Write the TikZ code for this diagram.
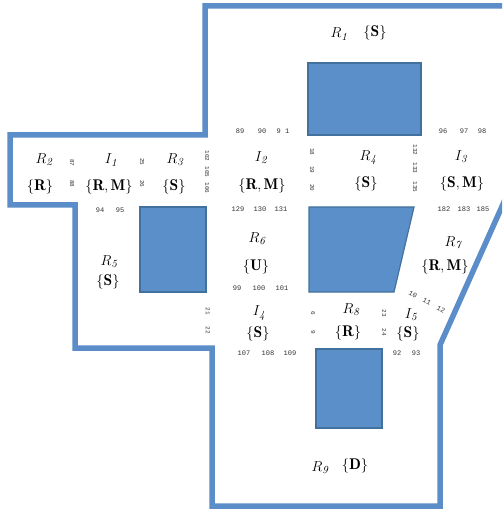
\documentclass[tikz,border=0pt]{standalone}
\usepackage{fontspec}
\setmonofont{Liberation Mono}
\definecolor{wallblue}{HTML}{5B8DC8}
\definecolor{obsfill}{HTML}{5B8FC9}
\definecolor{obsline}{HTML}{41719C}
\begin{document}
\begin{tikzpicture}[x=1pt, y=-1pt,
  wall/.style={wallblue, line width=5.5pt, line join=miter},
  obstacle/.style={fill=obsfill, draw=obsline, line width=1.2pt},
  region/.style={font=\fontsize{15.5}{17}\selectfont, inner sep=0pt},
  cell/.style={font=\fontsize{7}{8}\selectfont\ttfamily, inner sep=0pt, text=black!80},
  vcell/.style={cell, font=\fontsize{6}{7}\selectfont\ttfamily, rotate=-90}]
  \useasboundingbox (0,0) rectangle (502,510);
  \clip (0,0) rectangle (502,510);

  % Outline
  \draw[wall] (205,6) -- (508,6) -- (508,193) -- (440,345) -- (440,506)
    -- (212,506) -- (212,348) -- (75,348) -- (75,205) -- (10,205)
    -- (10,135) -- (205,135) -- cycle;

  % Obstacles
  \draw[obstacle] (308,63) rectangle (421,135);
  \draw[obstacle] (140,207) rectangle (206,292);
  \draw[obstacle] (309,207) -- (414,207) -- (394,292) -- (309,292) -- cycle;
  \draw[obstacle] (316,349) rectangle (382,428);

  % Regions
  \node[region] (r1) at (339,34) {$R_{\mathit{1}}$};
  \node[region] (r1s) at (375,33) {$\{\mathbf{S}\}$};
  \node[region] (r2) at (44,160) {$R_{\mathit{2}}$};
  \node[region] (r2s) at (40,187) {$\{\mathbf{R}\}$};
  \node[region] (i1) at (111,160) {$I_{\mathit{1}}$};
  \node[region] (i1s) at (109,187) {$\{\mathbf{R},\mathbf{M}\}$};
  \node[region] (r3) at (175,160) {$R_{\mathit{3}}$};
  \node[region] (r3s) at (174,187) {$\{\mathbf{S}\}$};
  \node[region] (i2) at (261,158) {$I_{\mathit{2}}$};
  \node[region] (i2s) at (262,186) {$\{\mathbf{R},\mathbf{M}\}$};
  \node[region] (r4) at (368,158) {$R_{\mathit{4}}$};
  \node[region] (r4s) at (366,184) {$\{\mathbf{S}\}$};
  \node[region] (i3) at (461,157) {$I_{\mathit{3}}$};
  \node[region] (i3s) at (462,184) {$\{\mathbf{S},\mathbf{M}\}$};
  \node[region] (r5) at (109,262) {$R_{\mathit{5}}$};
  \node[region] (r5s) at (108,282) {$\{\mathbf{S}\}$};
  \node[region] (r6) at (257,239) {$R_{\mathit{6}}$};
  \node[region] (r6s) at (256,267) {$\{\mathbf{U}\}$};
  \node[region] (r7) at (453,243) {$R_{\mathit{7}}$};
  \node[region] (r7s) at (445,267) {$\{\mathbf{R},\mathbf{M}\}$};
  \node[region] (i4) at (259,313) {$I_{\mathit{4}}$};
  \node[region] (i4s) at (258,334) {$\{\mathbf{S}\}$};
  \node[region] (r8) at (351,310) {$R_{\mathit{8}}$};
  \node[region] (r8s) at (348,333) {$\{\mathbf{R}\}$};
  \node[region] (i5) at (411,315) {$I_{\mathit{5}}$};
  \node[region] (i5s) at (408,334) {$\{\mathbf{S}\}$};
  \node[region] (r9) at (320,468) {$R_{\mathit{9}}$};
  \node[region] (r9s) at (355,466) {$\{\mathbf{D}\}$};

  % Cell numbers
  \node[vcell] (c87) at (72,163) {87};
  \node[vcell] (c88) at (72,184) {88};
  \node[vcell] (c25) at (142,162) {25};
  \node[vcell] (c26) at (142,184) {26};
  \node[vcell] (c102) at (207,156) {102};
  \node[vcell] (c105) at (207,172) {105};
  \node[vcell] (c106) at (207,188) {106};
  \node[vcell] (c18) at (312,152) {18};
  \node[vcell] (c19) at (312,170) {19};
  \node[vcell] (c20) at (312,188) {20};
  \node[vcell] (c132) at (415,150) {132};
  \node[vcell] (c133) at (415,168) {133};
  \node[vcell] (c135) at (415,187) {135};
  \node[vcell] (c21) at (208,311) {21};
  \node[vcell] (c22) at (208,330) {22};
  \node[vcell] (c6) at (313,313) {6};
  \node[vcell] (c9) at (313,332) {9};
  \node[vcell] (c23) at (384,313) {23};
  \node[vcell] (c24) at (384,332) {24};
  \node[cell] (c89) at (240,131) {89};
  \node[cell] (c90) at (262,131) {90};
  \node[cell] (c91) at (283,131) {9 1};
  \node[cell] (c96) at (443,131) {96};
  \node[cell] (c97) at (464,131) {97};
  \node[cell] (c98) at (482,131) {98};
  \node[cell] (c94) at (100,210) {94};
  \node[cell] (c95) at (120,210) {95};
  \node[cell] (c129) at (238,209) {129};
  \node[cell] (c130) at (260,209) {130};
  \node[cell] (c131) at (281,209) {131};
  \node[cell] (c182) at (444,209) {182};
  \node[cell] (c183) at (464,209) {183};
  \node[cell] (c185) at (483,209) {185};
  \node[cell] (c99) at (237,288) {99};
  \node[cell] (c100) at (259,288) {100};
  \node[cell] (c101) at (282,288) {101};
  \node[cell, rotate=-28] (c10) at (413,294) {10};
  \node[cell, rotate=-28] (c11) at (427,301) {11};
  \node[cell, rotate=-28] (c12) at (441,309) {12};
  \node[cell] (c107) at (244,353) {107};
  \node[cell] (c108) at (268,353) {108};
  \node[cell] (c109) at (290,353) {109};
  \node[cell] (c92) at (397,353) {92};
  \node[cell] (c93) at (416,353) {93};
\end{tikzpicture}
\end{document}
